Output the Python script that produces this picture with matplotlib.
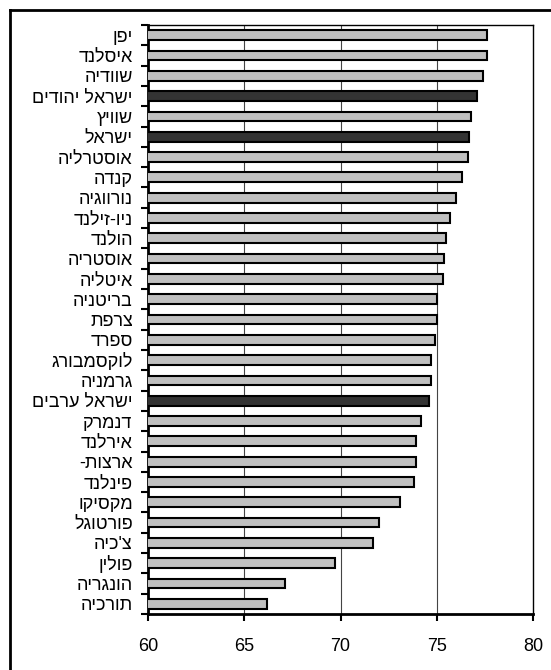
import matplotlib
matplotlib.use("Agg")
import matplotlib.pyplot as plt
from matplotlib.lines import Line2D

countries = ["יפן", "איסלנד", "שוודיה", "ישראל יהודים", "שוויץ", "ישראל",
             "אוסטרליה", "קנדה", "נורווגיה", "ניו-זילנד", "הולנד", "אוסטריה",
             "איטליה", "בריטניה", "צרפת", "ספרד", "לוקסמבורג", "גרמניה",
             "ישראל ערבים", "דנמרק", "אירלנד", "ארצות-", "פינלנד", "מקסיקו",
             "פורטוגל", "צ'כיה", "פולין", "הונגריה", "תורכיה"]
values = [77.6, 77.6, 77.4, 77.1, 76.8, 76.7, 76.6, 76.3, 76.0, 75.7, 75.5,
          75.4, 75.3, 75.0, 75.0, 74.9, 74.7, 74.7, 74.6, 74.2, 73.9, 73.9,
          73.8, 73.1, 72.0, 71.7, 69.7, 67.1, 66.2]
highlight = ["ישראל יהודים", "ישראל", "ישראל ערבים"]
x_ticks = [60, 65, 70, 75, 80]

plt.rcParams['font.family'] = ['Liberation Sans', 'DejaVu Sans']

def visual(s):
    return s[::-1]

fig = plt.figure(figsize=(5.51, 6.70), dpi=100)
ax = fig.add_axes([148/551, 1 - 614/670, (533-148)/551, (614-25)/670])

n = len(countries)
ypos = list(range(n))
colors = ['#333333' if c in highlight else '#c0c0c0' for c in countries]
ax.barh(ypos, values, height=0.48, color=colors, edgecolor='black',
        linewidth=1.5, zorder=3)

ax.set_xlim(60, 80)
ax.set_ylim(n - 0.5, -0.5)
ax.set_xticks(x_ticks)
ax.set_xticklabels([str(t) for t in x_ticks], fontsize=13)
ax.set_yticks(ypos)
ax.set_yticklabels([visual(c) for c in countries], fontsize=13)
ax.tick_params(axis='y', which='major', length=0, pad=11)
ax.set_yticks([i - 0.5 for i in range(n + 1)], minor=True)
ax.tick_params(axis='y', which='minor', length=5, width=1.5, direction='out')
ax.tick_params(axis='x', length=5, width=1.5, direction='out', pad=12)

for gx in x_ticks[1:-1]:
    ax.axvline(gx, color='#444444', linewidth=0.8, zorder=1)

for side in ['left', 'bottom']:
    ax.spines[side].set_linewidth(2)
for side in ['top', 'right']:
    ax.spines[side].set_linewidth(1)

fig.add_artist(Line2D([10/551, 10/551], [0, 1 - 10/670], transform=fig.transFigure,
                      color='black', linewidth=2))
fig.add_artist(Line2D([10/551, 1], [1 - 10/670, 1 - 10/670], transform=fig.transFigure,
                      color='black', linewidth=2))

fig.savefig("out.png", dpi=100)
